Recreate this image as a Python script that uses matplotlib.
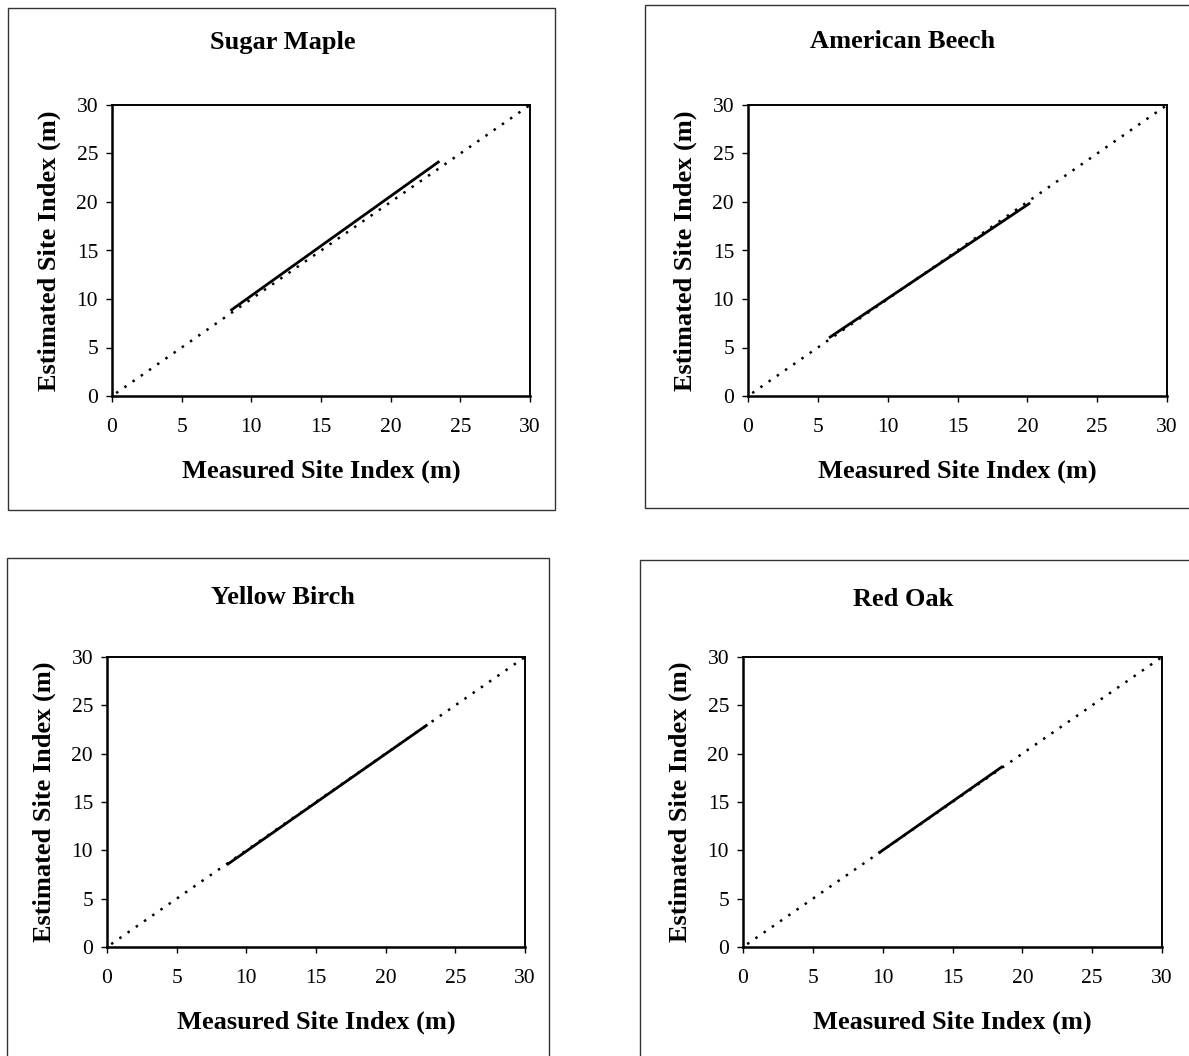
import matplotlib
matplotlib.use("Agg")
import matplotlib.pyplot as plt
from matplotlib.patches import Rectangle

SERIF = ["Liberation Serif", "DejaVu Serif"]
INK = "#000000"

titles = ["Sugar Maple", "American Beech", "Yellow Birch", "Red Oak"]

# 1:1 reference line
ref_x = [0.3, 30]
ref_y = [0.3, 30]

# fitted lines (measured vs estimated site index)
fit_x = [[8.5, 23.5], [5.8, 20.2], [8.6, 23.0], [9.7, 18.6]]
fit_y = [[8.8, 24.2], [6.0, 19.9], [8.5, 23.0], [9.7, 18.7]]

ticks = [0, 5, 10, 15, 20, 25, 30]

W, H = 1189, 1056
fig = plt.figure(figsize=(W / 100, H / 100), dpi=100)
fig.patch.set_facecolor("white")

# axes boxes in pixels: left, top, right, bottom
ax_px = [(112, 105, 530, 396), (748, 105, 1167, 396),
         (107, 657, 525, 947), (743, 657, 1162, 947)]
# outer chart frames in pixels
frame_px = [(8, 8, 555, 510), (645, 5, 1200, 508),
            (7, 558, 549, 1070), (640, 560, 1200, 1070)]
title_px = [(283, 42), (903, 42), (283, 597), (903, 600)]

for i in range(4):
    l, t, r, b = ax_px[i]
    ax = fig.add_axes([l / W, 1 - b / H, (r - l) / W, (b - t) / H])
    ax.plot(ref_x, ref_y, color=INK, linewidth=1.8, linestyle=(0, (1, 3.0)))
    ax.plot(fit_x[i], fit_y[i], color=INK, linewidth=2.0, solid_capstyle="butt")
    ax.set_xlim(0, 30)
    ax.set_ylim(0, 30)
    ax.set_xticks(ticks)
    ax.set_yticks(ticks)
    ax.tick_params(direction="out", length=4, width=1, colors=INK, labelsize=15.5)
    ax.tick_params(axis="x", pad=12)
    ax.tick_params(axis="y", pad=6)
    for lab in ax.get_xticklabels() + ax.get_yticklabels():
        lab.set_family(SERIF)
    for side in ("top", "right"):
        ax.spines[side].set_linewidth(1.4)
    for side in ("left", "bottom"):
        ax.spines[side].set_linewidth(1.8)
    ax.set_xlabel("Measured Site Index (m)", fontsize=19, fontweight="bold",
                  family=SERIF, labelpad=16)
    ax.set_ylabel("Estimated Site Index (m)", fontsize=19, fontweight="bold",
                  family=SERIF, labelpad=11)

    fl, ft, fr, fb = frame_px[i]
    fig.patches.append(Rectangle((fl / W, 1 - fb / H), (fr - fl) / W, (fb - ft) / H,
                                 transform=fig.transFigure, fill=False,
                                 edgecolor="#333333", linewidth=1.0))
    tx, ty = title_px[i]
    fig.text(tx / W, 1 - ty / H, titles[i], ha="center", va="center",
             fontsize=19, fontweight="bold", family=SERIF, color=INK)

fig.savefig("out.png", dpi=100, facecolor="white")
